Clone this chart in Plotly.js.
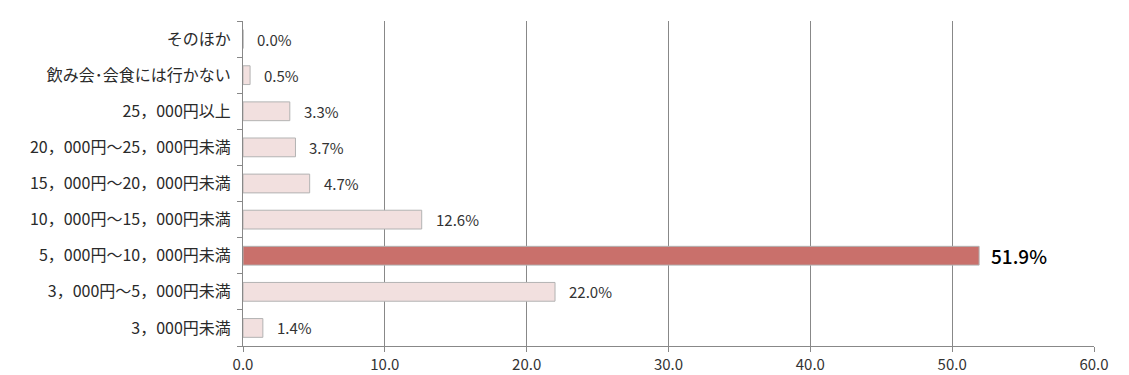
<!DOCTYPE html>
<html><head><meta charset="utf-8">
<script src="https://cdn.plot.ly/plotly-3.0.1.min.js"></script>
<style>html,body{margin:0;padding:0;background:#fff;}#chart{width:1129px;height:375px;}</style>
</head><body><div id="chart"></div>
<script>
const categories = ["3，000円未満","3，000円～5，000円未満","5，000円～10，000円未満","10，000円～15，000円未満","15，000円～20，000円未満","20，000円～25，000円未満","25，000円以上","飲み会･会食には行かない","そのほか"];
const values = [1.4, 22.0, 51.9, 12.6, 4.7, 3.7, 3.3, 0.5, 0.0];
const highlightIndex = 2;
const xTickVals = [0,10,20,30,40,50,60];
const xTickText = ["0.0","10.0","20.0","30.0","40.0","50.0","60.0"];

const FONT = "'Noto Sans CJK JP', 'Noto Sans', sans-serif";
const colors = values.map((v,i)=> i===highlightIndex ? "#c9706b" : "#f2e0df");
const lineColors = values.map(()=> "#b3b3b3");

const trace = {
  type: "bar", orientation: "h",
  x: values, y: categories,
  marker: {color: colors, line: {color: lineColors, width: 1}},
  hoverinfo: "none", width: 0.52
};

const annotations = values.map((v,i)=>({
  x: v, y: categories[i], xref: "x", yref: "y",
  text: v.toFixed(1) + "%",
  showarrow: false, xanchor: "left", yanchor: "middle",
  xshift: i===highlightIndex ? 10 : 12,
  font: {family: FONT, size: i===highlightIndex ? 19 : 15, color: i===highlightIndex ? "#000" : "#333",
         weight: i===highlightIndex ? 500 : 400}
}));

const layout = {
  width: 1129, height: 375,
  margin: {l: 243, r: 35, t: 21, b: 29, pad: 0},
  paper_bgcolor: "#fff", plot_bgcolor: "#fff",
  showlegend: false,
  font: {family: FONT, size: 14, color: "#333"},
  xaxis: {
    range: [0, 60], tickvals: xTickVals, ticktext: xTickText,
    showgrid: true, gridcolor: "#888", gridwidth: 1,
    showline: true, linecolor: "#888", linewidth: 1,
    ticks: "outside", ticklen: 5, tickcolor: "#888",
    zeroline: false, fixedrange: true,
    tickfont: {family: FONT, size: 15, color: "#333"}
  },
  yaxis: {
    type: "category", categoryorder: "array", categoryarray: categories,
    range: [-0.5, categories.length - 0.5],
    showgrid: false, showline: true, linecolor: "#888", linewidth: 1,
    ticks: "outside", ticklen: 5, tickcolor: "#888", tickson: "boundaries",
    ticklabelstandoff: 8,
    zeroline: false, fixedrange: true,
    tickfont: {family: FONT, size: 16, color: "#2a2a2a"}
  },
  annotations: annotations
};

Plotly.newPlot("chart", [trace], layout, {displayModeBar: false, staticPlot: true});
</script></body></html>
